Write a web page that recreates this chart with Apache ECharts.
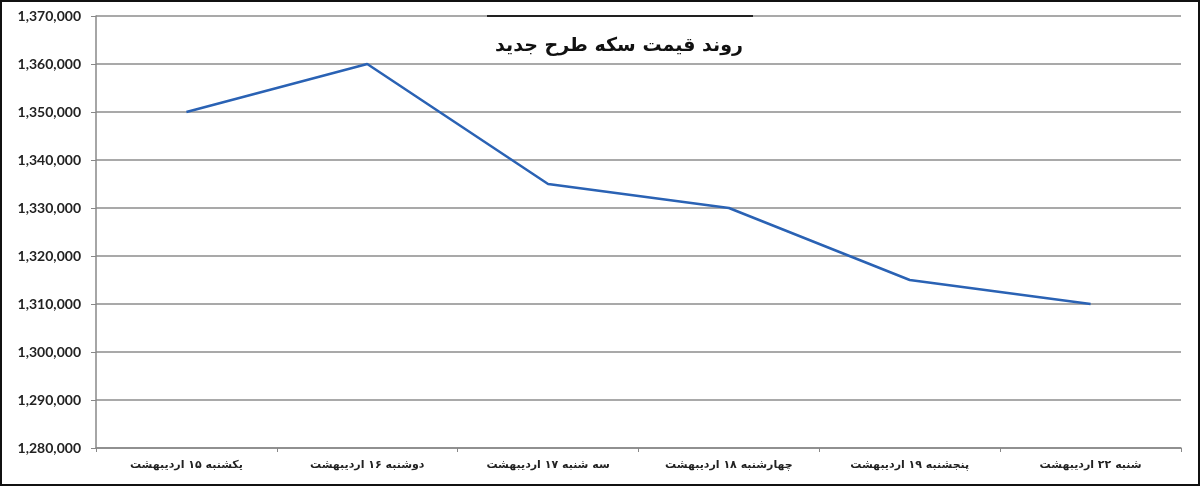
<!DOCTYPE html>
<html>
<head>
<meta charset="utf-8">
<script src="https://cdn.jsdelivr.net/npm/echarts@6/dist/echarts.min.js"></script>
<style>
  html, body { margin: 0; padding: 0; background: #fff; }
  #chart { width: 1196px; height: 482px; border: 2px solid #111; }
</style>
</head>
<body>
<div id="chart"></div>
<script>
  // chart data
  var titleText = 'روند قیمت سکه طرح جدید';
  var days = [
    'یکشنبه ۱۵ اردیبهشت',
    'دوشنبه ۱۶ اردیبهشت',
    'سه شنبه ۱۷ اردیبهشت',
    'چهارشنبه ۱۸ اردیبهشت',
    'پنجشنبه ۱۹ اردیبهشت',
    'شنبه ۲۲ اردیبهشت'
  ];
  var prices = [1350000, 1360000, 1335000, 1330000, 1315000, 1310000];
  var yMin = 1280000;
  var yMax = 1370000;
  var yStep = 10000;

  var chart = echarts.init(document.getElementById('chart'));

  var option = {
    animation: false,
    backgroundColor: '#fff',
    title: {
      text: titleText,
      left: 612,
      top: 30,
      textAlign: 'center',
      textStyle: {
        fontFamily: 'DejaVu Sans',
        fontWeight: 'bold',
        fontSize: 19,
        color: '#111'
      }
    },
    graphic: [{
      type: 'line',
      shape: { x1: 485, y1: 14, x2: 751, y2: 14 },
      style: { stroke: '#222', lineWidth: 2 },
      z: 10
    }],
    grid: {
      left: 94,
      right: 17,
      top: 14,
      bottom: 36,
      containLabel: false
    },
    xAxis: {
      type: 'category',
      data: days,
      boundaryGap: true,
      axisLine: { lineStyle: { color: '#888', width: 1.5 } },
      axisTick: { show: true, length: 4, lineStyle: { color: '#888' } },
      axisLabel: {
        margin: 12,
        fontFamily: 'DejaVu Sans',
        fontWeight: 'bold',
        fontSize: 11,
        color: '#222'
      },
      splitLine: { show: false }
    },
    yAxis: {
      type: 'value',
      min: yMin,
      max: yMax,
      interval: yStep,
      axisLine: { show: true, lineStyle: { color: '#888', width: 1.5 } },
      axisTick: { show: true, length: 5, lineStyle: { color: '#888' } },
      axisLabel: {
        margin: 15,
        fontFamily: 'Lato',
        fontWeight: 'bold',
        fontSize: 14,
        color: '#222',
        formatter: function (v) {
          return v.toLocaleString('en-US');
        }
      },
      splitLine: { show: true, lineStyle: { color: '#8c8c8c', width: 1.5 } }
    },
    series: [{
      type: 'line',
      data: prices,
      showSymbol: false,
      symbol: 'none',
      lineStyle: { color: '#2a62b4', width: 2.5 }
    }]
  };

  chart.setOption(option);
</script>
</body>
</html>
